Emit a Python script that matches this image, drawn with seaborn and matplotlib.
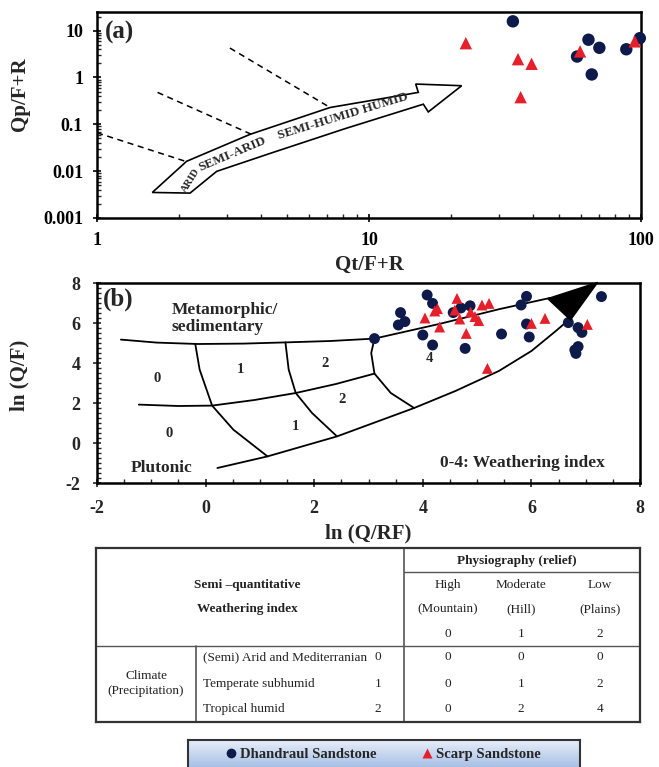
import numpy as np
import pandas as pd
import matplotlib
matplotlib.use("Agg")
import matplotlib.pyplot as plt
import seaborn as sns
from matplotlib.ticker import LogLocator, NullFormatter, MultipleLocator
from matplotlib.patches import Polygon

sns.set_theme(style="white")
plt.rcParams['font.family'] = ['Liberation Serif', 'DejaVu Serif']
plt.rcParams['font.weight'] = 'bold'

# ---------------- data ----------------
series_names = ["Dhandraul Sandstone", "Scarp Sandstone"]

# panel (a): Qt/F+R vs Qp/F+R
a_dhandraul_x = [33.8, 64.1, 70.3, 58.2, 88.3, 99.0, 65.9]
a_dhandraul_y = [15.8, 6.4, 4.3, 2.8, 4.0, 6.9, 1.16]
a_scarp_x = [22.7, 59.7, 94.8, 35.3, 39.6, 36.1]
a_scarp_y = [5.4, 3.6, 5.9, 2.46, 1.96, 0.38]

# panel (b): ln(Q/RF) vs ln(Q/F)
b_dhandraul_x = [3.11, 4.08, 4.18, 3.59, 3.67, 3.55, 4.00, 4.18, 4.56, 4.70, 4.87, 4.78,
                 5.45, 5.81, 5.91, 7.29, 5.91, 5.96, 6.68, 6.86, 6.93, 6.80, 6.86, 6.82]
b_dhandraul_y = [5.22, 7.40, 6.98, 6.52, 6.07, 5.90, 5.40, 4.90, 6.52, 6.75, 6.86, 4.73,
                 5.45, 6.90, 7.33, 7.32, 5.95, 5.30, 6.02, 5.77, 5.53, 4.65, 4.82, 4.48]
b_scarp_x = [4.63, 4.22, 4.27, 4.04, 4.31, 4.59, 4.68, 4.80, 4.88, 4.96, 5.03, 5.09, 5.22,
             5.19, 6.00, 6.25, 7.03]
b_scarp_y = [7.23, 6.60, 6.72, 6.25, 5.80, 6.65, 6.20, 5.48, 6.55, 6.32, 6.12, 6.90, 6.98,
             3.73, 5.98, 6.23, 5.93]

a_xticks = [1, 10, 100]
a_xticklabels = ["1", "10", "100"]
a_yticks = [0.001, 0.01, 0.1, 1, 10]
a_yticklabels = ["0.001", "0.01", "0.1", "1", "10"]
b_ticks = [-2, 0, 2, 4, 6, 8]

# table content
phys_cols = ["High\n(Mountain)", "Moderate\n(Hill)", "Low\n(Plains)"]
phys_vals = ["0", "1", "2"]
climate_rows = ["(Semi) Arid and Mediterranian", "Temperate subhumid", "Tropical humid"]
climate_vals = ["0", "1", "2"]
index_table = [["0", "0", "0"], ["0", "1", "2"], ["0", "2", "4"]]

# annotation geometry, panel (a) (data coordinates)
arrow_a_x = [1.597, 2.136, 3.651, 7.19, 15.18, 14.85, 21.91, 16.52, 15.84, 8.16, 4.39, 2.754, 2.198]
arrow_a_y = [0.00351, 0.01626, 0.0610, 0.2284, 0.480, 0.724, 0.667, 0.184, 0.269, 0.0807, 0.0246, 0.0099, 0.0034]
dash_lines_a = [((1.0, 2.11), (0.066, 0.0163)),
                ((1.67, 3.70), (0.48, 0.061)),
                ((3.08, 7.19), (4.25, 0.229))]

# annotation geometry, panel (b)
upper_b = ([-1.56, -0.9, -0.14, 0.7, 1.47, 2.3, 3.11, 4.3, 5.42, 6.34],
           [5.17, 5.02, 4.95, 4.97, 5.03, 5.10, 5.22, 5.95, 6.70, 7.25])
middle_b = ([-1.23, -0.5, 0.12, 0.9, 1.66, 2.4, 3.11],
            [1.92, 1.85, 1.87, 2.15, 2.50, 2.95, 3.47])
lower_b = ([0.217, 1.14, 2.42, 3.84, 4.6, 5.4, 6.0, 6.45, 6.75],
           [-1.25, -0.67, 0.33, 1.75, 2.6, 3.6, 4.6, 5.6, 6.3])
dividers_b = [([-0.19, -0.11, 0.12, 0.51, 1.14], [4.95, 3.67, 1.87, 0.67, -0.67]),
              ([1.47, 1.53, 1.66, 1.96, 2.42], [5.03, 3.67, 2.50, 1.50, 0.33]),
              ([3.11, 3.05, 3.11, 3.41, 3.84], [5.22, 4.50, 3.47, 2.50, 1.75])]
arrowhead_b = [(6.30, 7.22), (7.22, 8.03), (6.72, 6.15)]

palette = {"Dhandraul Sandstone": "#0d1a4a", "Scarp Sandstone": "#e5202b"}
markers = {"Dhandraul Sandstone": "o", "Scarp Sandstone": "^"}

dfa = pd.DataFrame({
    "x": a_dhandraul_x + a_scarp_x,
    "y": a_dhandraul_y + a_scarp_y,
    "rock": [series_names[0]] * len(a_dhandraul_x) + [series_names[1]] * len(a_scarp_x),
})
dfb = pd.DataFrame({
    "x": b_dhandraul_x + b_scarp_x,
    "y": b_dhandraul_y + b_scarp_y,
    "rock": [series_names[0]] * len(b_dhandraul_x) + [series_names[1]] * len(b_scarp_x),
})

W, H = 659, 767
fig = plt.figure(figsize=(W / 100, H / 100), dpi=100)
fig.patch.set_facecolor("white")

def fr(x0, y0, x1, y1):
    return [x0 / W, 1 - y1 / H, (x1 - x0) / W, (y1 - y0) / H]

tick_font = dict(fontsize=13, fontweight="bold")
lab_font = dict(fontsize=15, fontweight="bold")

# ---------------- panel (a) ----------------
ax_a = fig.add_axes(fr(97, 12, 641, 218))
ax_a.set_xscale("log")
ax_a.set_yscale("log")
ax_a.set_xlim(1, 100)
ax_a.set_ylim(0.001, 25)
for (xs, ys) in dash_lines_a:
    ax_a.plot(xs, ys, ls=(0, (4, 3)), color="black", lw=1.1, zorder=1)
ax_a.add_patch(Polygon(list(zip(arrow_a_x, arrow_a_y)), closed=True, fc="white",
                       ec="black", lw=1.2, zorder=2))
ax_a.text(2.22, 0.0062, "ARID", rotation=58, ha="center", va="center", fontsize=7.5,
          fontweight="bold", zorder=3, rotation_mode="anchor")
ax_a.text(3.15, 0.0230, "SEMI-ARID", rotation=23, ha="center", va="center", fontsize=9.5,
          fontweight="bold", zorder=3, rotation_mode="anchor")
ax_a.text(8.0, 0.145, "SEMI-HUMID HUMID", rotation=17, ha="center", va="center", fontsize=9.5,
          fontweight="bold", zorder=3, rotation_mode="anchor")
sns.scatterplot(data=dfa, x="x", y="y", hue="rock", style="rock", palette=palette,
                markers=markers, s=80, edgecolor="none", ax=ax_a, legend=False,
                zorder=4, clip_on=False)
ax_a.text(1.07, 9.0, "(a)", fontsize=18, fontweight="bold", va="center", ha="left")
ax_a.set_xticks(a_xticks)
ax_a.set_xticklabels(a_xticklabels, **tick_font)
ax_a.set_yticks(a_yticks)
ax_a.set_yticklabels(a_yticklabels, **tick_font)
ax_a.xaxis.set_minor_locator(LogLocator(base=10, subs=np.arange(2, 10)))
ax_a.yaxis.set_minor_locator(LogLocator(base=10, subs=np.arange(2, 10)))
ax_a.xaxis.set_minor_formatter(NullFormatter())
ax_a.yaxis.set_minor_formatter(NullFormatter())
ax_a.tick_params(which="major", direction="inout", length=6, width=1.2, pad=7,
                 bottom=True, left=True, colors="black")
ax_a.tick_params(which="minor", direction="in", length=3, width=1, bottom=True, left=True)
ax_a.set_xlabel("Qt/F+R", labelpad=4, **lab_font)
ax_a.set_ylabel("Qp/F+R", **lab_font)
ax_a.yaxis.set_label_coords(-0.124, 0.6)
for sp in ax_a.spines.values():
    sp.set_color("black")
    sp.set_linewidth(1.8)

# ---------------- panel (b) ----------------
ax_b = fig.add_axes(fr(97, 283, 640, 483))
ax_b.set_xlim(-2, 8)
ax_b.set_ylim(-2, 8)
lw_b = 1.3
ax_b.plot(*upper_b, color="black", lw=lw_b, zorder=1)
ax_b.plot(*middle_b, color="black", lw=lw_b, zorder=1)
ax_b.plot(*lower_b, color="black", lw=lw_b, zorder=1)
for xs, ys in dividers_b:
    ax_b.plot(xs, ys, color="black", lw=lw_b, zorder=1)
ax_b.add_patch(Polygon(arrowhead_b, closed=True, fc="black", ec="black", zorder=5,
                       clip_on=False))
sns.scatterplot(data=dfb, x="x", y="y", hue="rock", style="rock", palette=palette,
                markers=markers, s=62, edgecolor="none", ax=ax_b, legend=True, zorder=4)
handles, labels = ax_b.get_legend_handles_labels()
ax_b.get_legend().remove()

num_font = dict(fontsize=10.5, fontweight="bold", ha="center", va="center")
for (tx, ty, t) in [(-0.9, 3.25, "0"), (0.64, 3.67, "1"), (2.2, 4.0, "2"),
                    (2.52, 2.17, "2"), (1.66, 0.83, "1"), (-0.68, 0.5, "0"),
                    (4.13, 4.25, "4")]:
    ax_b.text(tx, ty, t, **num_font)
ax_b.text(-0.62, 6.22, "Metamorphic/\nsedimentary", fontsize=12.5, fontweight="bold",
          ha="left", va="center", linespacing=1.05)
ax_b.text(-1.38, -1.25, "Plutonic", fontsize=12.5, fontweight="bold", ha="left", va="center")
ax_b.text(7.35, -1.0, "0-4: Weathering index", fontsize=12.5, fontweight="bold",
          ha="right", va="center")
ax_b.text(-1.9, 7.2, "(b)", fontsize=18, fontweight="bold", ha="left", va="center")
ax_b.set_xticks(b_ticks)
ax_b.set_yticks(b_ticks)
ax_b.set_xticklabels([str(t) for t in b_ticks], **tick_font)
ax_b.set_yticklabels([str(t) for t in b_ticks], **tick_font)
ax_b.xaxis.set_minor_locator(MultipleLocator(0.5))
ax_b.yaxis.set_minor_locator(MultipleLocator(0.25))
ax_b.tick_params(which="major", direction="inout", length=6, width=1.2, pad=9,
                 bottom=True, left=True)
ax_b.tick_params(which="minor", direction="in", length=3, width=1, bottom=True, left=True)
ax_b.set_xlabel("ln (Q/RF)", labelpad=5, **lab_font)
ax_b.set_ylabel("ln (Q/F)", **lab_font)
ax_b.yaxis.set_label_coords(-0.124, 0.54)
for sp in ax_b.spines.values():
    sp.set_color("black")
    sp.set_linewidth(1.8)

# ---------------- table ----------------
ax_t = fig.add_axes(fr(96, 548, 640, 722))
ax_t.set_xlim(0, 1)
ax_t.set_ylim(1, 0)
ax_t.set_xticks([])
ax_t.set_yticks([])
for sp in ax_t.spines.values():
    sp.set_color("#333333")
    sp.set_linewidth(1.6)
line_c = "#555555"
ax_t.plot([0.566, 0.566], [0, 1], color=line_c, lw=1.2)
ax_t.plot([0.184, 0.184], [0.564, 1], color=line_c, lw=1.2)
ax_t.plot([0.566, 1], [0.139, 0.139], color=line_c, lw=1.0)
ax_t.plot([0, 1], [0.564, 0.564], color=line_c, lw=1.0)
tb = dict(fontsize=9.5, color="#222222", ha="center", va="center")
ax_t.text(0.774, 0.073, "Physiography (relief)", fontweight="bold", **tb)
ax_t.text(0.278, 0.212, "Semi \u2013quantitative", fontweight="bold", **tb)
ax_t.text(0.278, 0.353, "Weathering index", fontweight="bold", **tb)
col_x = [0.646, 0.781, 0.926]
for cx, head, v in zip(col_x, phys_cols, phys_vals):
    top, bot = head.split("\n")
    ax_t.text(cx, 0.212, top, fontweight="normal", **tb)
    ax_t.text(cx, 0.353, bot, fontweight="normal", **tb)
    ax_t.text(cx, 0.496, v, fontweight="normal", **tb)
row_y = [0.627, 0.782, 0.923]
ax_t.text(0.092, 0.778, "Climate\n(Precipitation)", fontweight="normal", linespacing=1.3, **tb)
for ry, lab, cv, vals in zip(row_y, climate_rows, climate_vals, index_table):
    ax_t.text(0.197, ry, lab, fontsize=9.5, color="#222222", ha="left", va="center",
              fontweight="normal")
    ax_t.text(0.518, ry, cv, fontweight="normal", **tb)
    for cx, v in zip(col_x, vals):
        ax_t.text(cx, ry, v, fontweight="normal", **tb)

# ---------------- legend ----------------
ax_l = fig.add_axes(fr(188, 740, 580, 772))
grad = np.linspace(0, 1, 64).reshape(-1, 1)
cmap = matplotlib.colors.LinearSegmentedColormap.from_list("g", ["#e6eef9", "#9db8e2"])
ax_l.imshow(grad, aspect="auto", cmap=cmap, extent=[0, 1, 0, 1], origin="upper")
ax_l.set_xticks([])
ax_l.set_yticks([])
for sp in ax_l.spines.values():
    sp.set_color("#333333")
    sp.set_linewidth(1.5)
for h in handles:
    try:
        h.set_markersize(7)
    except Exception:
        pass
fig.legend(handles, labels, loc="center", bbox_to_anchor=(382 / W, 1 - 754 / H), ncol=2,
           frameon=False, prop=dict(family="Liberation Serif", weight="bold", size=10.5),
           columnspacing=3.0, handletextpad=0.1, handlelength=1.0, markerscale=1.0)

fig.savefig("out.png", dpi=100)
